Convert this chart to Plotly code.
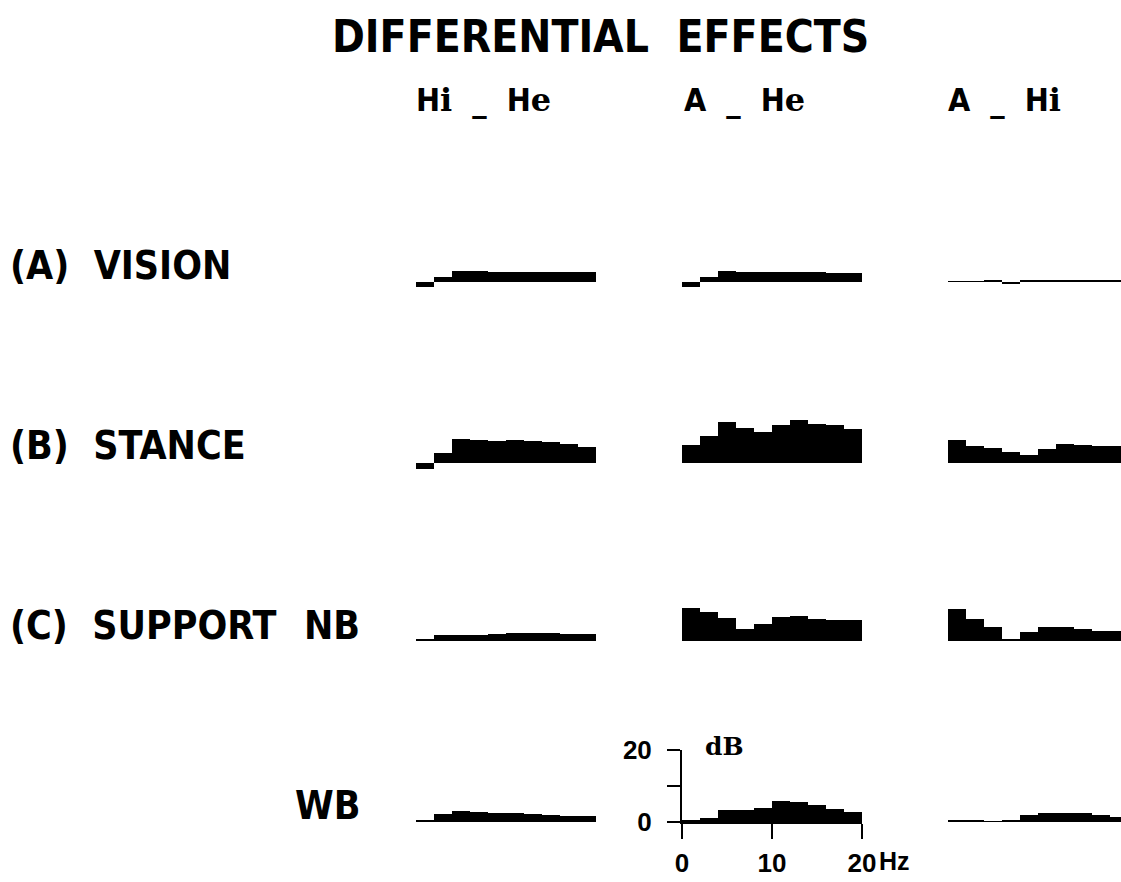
import plotly.graph_objects as go

W, H = 1121, 882

freq_hz = [1, 3, 5, 7, 9, 11, 13, 15, 17, 19]
row_titles = ["(A)  VISION", "(B)  STANCE", "(C)  SUPPORT", "WB"]
nb_label = "NB"
x_tick_labels = ["0", "10", "20"]
y_tick_labels = ["0", "", "20"]

vision_hi_he = [-1.5, 1.4, 3.0, 3.0, 2.9, 2.8, 2.8, 2.8, 2.8, 2.7]
vision_a_he = [-1.3, 1.4, 3.0, 2.7, 2.7, 2.8, 2.7, 2.7, 2.6, 2.6]
vision_a_hi = [0.2, 0.2, 0.3, -0.4, 0.3, 0.6, 0.6, 0.4, 0.3, 0.3]
stance_hi_he = [-1.7, 2.8, 6.8, 6.5, 6.1, 6.3, 6.1, 5.8, 5.4, 4.4]
stance_a_he = [4.9, 7.4, 11.4, 9.8, 8.6, 10.5, 11.9, 10.9, 10.5, 9.5]
stance_a_hi = [6.3, 4.6, 4.3, 3.1, 2.3, 4.0, 5.4, 4.9, 4.6, 4.6]
nb_hi_he = [0.3, 1.6, 1.8, 1.8, 1.9, 2.2, 2.2, 2.1, 2.0, 1.9]
nb_a_he = [9.3, 8.1, 6.5, 3.4, 4.6, 6.7, 6.9, 6.2, 5.7, 5.7]
nb_a_hi = [8.8, 6.0, 4.0, 0.6, 2.6, 4.0, 4.0, 3.4, 2.8, 2.8]
wb_hi_he = [0.3, 2.2, 3.0, 2.8, 2.6, 2.4, 2.2, 2.0, 1.8, 1.6]
wb_a_he = [0.3, 1.2, 3.4, 3.2, 4.0, 5.7, 5.5, 4.6, 3.7, 2.8]
wb_a_hi = [0.3, 0.4, 0.2, 0.5, 2.0, 2.6, 2.6, 2.4, 2.0, 1.5]

panels = [
    [vision_hi_he, vision_a_he, vision_a_hi],
    [stance_hi_he, stance_a_he, stance_a_hi],
    [nb_hi_he, nb_a_he, nb_a_hi],
    [wb_hi_he, wb_a_he, wb_a_hi],
]

# layout geometry (pixels)
col_left = [416, 682, 948]
px_per_hz = 9.0
px_per_db = 3.6
row_base = [282, 463, 641, 822]
db_top, db_bot = 20, -5

def px(x):
    return x / W

def py(y):
    return 1 - y / H

fig = go.Figure()
layout = {}
idx = 0
for r in range(4):
    for c in range(3):
        idx += 1
        xa = "x" if idx == 1 else f"x{idx}"
        ya = "y" if idx == 1 else f"y{idx}"
        xkey = "xaxis" if idx == 1 else f"xaxis{idx}"
        ykey = "yaxis" if idx == 1 else f"yaxis{idx}"
        fig.add_trace(go.Bar(
            x=freq_hz, y=panels[r][c], width=2,
            marker=dict(color="black", line=dict(width=0)),
            xaxis=xa, yaxis=ya, showlegend=False, hoverinfo="skip",
        ))
        x0 = col_left[c]
        x1 = x0 + 20 * px_per_hz
        xmax = 20.0
        if x1 > W:
            xmax = (W - x0) / px_per_hz
            x1 = W
        is_axis = (r == 3 and c == 1)
        if is_axis:
            ylo, yhi = 0, 20
        else:
            ylo, yhi = db_bot, db_top
        ytop_px = row_base[r] - yhi * px_per_db
        ybot_px = row_base[r] - ylo * px_per_db
        layout[xkey] = dict(
            domain=[px(x0), px(x1)], range=[0, xmax], anchor=ya,
            visible=is_axis, fixedrange=True, automargin=False,
        )
        layout[ykey] = dict(
            domain=[py(ybot_px), py(ytop_px)], range=[ylo, yhi], anchor=xa,
            visible=is_axis, fixedrange=True, automargin=False,
        )
        if is_axis:
            layout[xkey].update(
                showline=True, linecolor="black", linewidth=2,
                ticks="outside", ticklen=15, tickwidth=2, tickcolor="black",
                tickvals=[0, 10, 20], ticktext=x_tick_labels,
                tickfont=dict(family="Liberation Sans, Arial", size=26,
                              color="black", weight="bold"),
                ticklabelstandoff=2, showgrid=False, zeroline=False,
            )
            layout[ykey].update(
                showline=True, linecolor="black", linewidth=2,
                ticks="outside", ticklen=13, tickwidth=2, tickcolor="black",
                tickvals=[0, 10, 20], ticktext=y_tick_labels,
                tickfont=dict(family="Liberation Sans, Arial", size=26,
                              color="black", weight="bold"),
                ticklabelstandoff=10, showgrid=False, zeroline=False,
            )

ann = []
heavy = "DejaVu Sans Condensed, Liberation Sans Narrow, Arial Narrow"
serif = "DejaVu Serif"

def add_text(text, x, y, size, xanchor="left", family=heavy):
    ann.append(dict(text=text, x=px(x), y=py(y), xref="paper", yref="paper",
                    xanchor=xanchor, yanchor="middle", showarrow=False,
                    font=dict(family=family, size=size, color="black")))

def low(s):
    return f"<span style='font-family:{serif}'>{s}</span>"

column_titles = [
    "<b>H" + low("i") + "  _  H" + low("e") + "</b>",
    "<b>A  _  H" + low("e") + "</b>",
    "<b>A  _  H" + low("i") + "</b>",
]

add_text("<b>DIFFERENTIAL  EFFECTS</b>", 600, 36, 44, "center")
head_x = [414, 682, 946]
for c in range(3):
    add_text(column_titles[c], head_x[c], 100, 32)
label_y = [265, 445, 625, 805]
for r in range(3):
    add_text("<b>" + row_titles[r] + "</b>", 8, label_y[r], 39)
add_text("<b>" + nb_label + "</b>", 362, label_y[2], 39, "right")
add_text("<b>" + row_titles[3] + "</b>", 362, label_y[3], 39, "right")
add_text("<b>dB</b>", 703, 746, 25, family=serif)
add_text("<b>Hz</b>", 877, 861, 25, family="Liberation Sans, Arial")

fig.update_layout(
    width=W, height=H, margin=dict(l=0, r=0, t=0, b=0),
    paper_bgcolor="white", plot_bgcolor="rgba(0,0,0,0)",
    bargap=0, annotations=ann, **layout,
)
fig.write_html("out.html")
